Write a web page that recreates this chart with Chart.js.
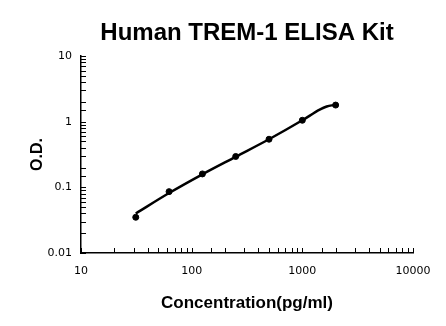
<!DOCTYPE html>
<html>
<head>
<meta charset="utf-8">
<script src="https://cdn.jsdelivr.net/npm/chart.js@4"></script>
<style>
  html,body{margin:0;padding:0;background:#fff}
  #wrap{width:446px;height:326px}
</style>
</head>
<body>
<div id="wrap"><canvas id="c" width="446" height="326"></canvas></div>
<script>
// standard points (pg/ml vs O.D.)
const concX=[31.25,62.5,125,250,500,1000,2000];
const odY=[0.035,0.086,0.16,0.295,0.54,1.05,1.79];
// fitted curve
const fitX=[31.25,62.5,125,250,500,1000,1450,1660,1840,2000];
const fitY=[0.040,0.082,0.158,0.292,0.54,1.05,1.54,1.70,1.77,1.79];
const xTicks=[10,100,1000,10000];
const yTicks=[0.01,0.1,1,10];

const F='"Liberation Sans", Arial, sans-serif';
const TF='"DejaVu Sans", Tahoma, sans-serif';

// tick marks pointing into the plot
const innerTicks={
  id:'innerTicks',
  afterDatasetsDraw(chart){
    const {ctx,chartArea:a,scales:{x,y}}=chart;
    ctx.save();
    ctx.strokeStyle='#000';ctx.lineWidth=1;
    ctx.beginPath();
    x.ticks.forEach(t=>{const px=Math.round(x.getPixelForValue(t.value))+0.5;ctx.moveTo(px,a.bottom);ctx.lineTo(px,a.bottom-5)});
    y.ticks.forEach(t=>{const py=Math.round(y.getPixelForValue(t.value))+0.5;ctx.moveTo(a.left,py);ctx.lineTo(a.left+5,py)});
    ctx.stroke();
    ctx.restore();
  }
};

const lbl=list=>v=>list.some(t=>Math.abs(t-v)/t<1e-6)?String(v):'';

new Chart(document.getElementById('c').getContext('2d'),{
  type:'scatter',
  data:{datasets:[
    {data:fitX.map((v,i)=>({x:v,y:fitY[i]})),showLine:true,borderColor:'#000',borderWidth:2.5,pointRadius:0,cubicInterpolationMode:'monotone',order:2},
    {data:concX.map((v,i)=>({x:v,y:odY[i]})),backgroundColor:'#000',borderColor:'#000',pointRadius:3,order:1}
  ]},
  options:{
    responsive:false,animation:false,
    layout:{padding:{left:0,right:33,top:0,bottom:0}},
    plugins:{
      legend:{display:false},tooltip:{enabled:false},
      title:{display:true,text:'Human TREM-1 ELISA Kit',color:'#000',fullSize:false,
        font:{family:F,size:24,weight:'bold',lineHeight:1.2},padding:{top:19,bottom:8.2}}
    },
    scales:{
      x:{type:'logarithmic',min:10,max:10000,
        grid:{display:false,drawTicks:false},
        border:{display:true,color:'#000',width:1.5},
        ticks:{autoSkip:false,maxRotation:0,padding:12,color:'#000',font:{family:TF,size:11},callback:lbl(xTicks)},
        title:{display:true,text:'Concentration(pg/ml)',color:'#000',font:{family:F,size:17,weight:'bold',lineHeight:1.2},padding:{top:0,bottom:12}},
        afterFit(s){s.height=73}
      },
      y:{type:'logarithmic',min:0.01,max:10,
        grid:{display:false,drawTicks:false},
        border:{display:true,color:'#000',width:1.5},
        ticks:{autoSkip:false,padding:9,color:'#000',font:{family:TF,size:11},callback:lbl(yTicks)},
        title:{display:true,text:'O.D.',color:'#000',font:{family:F,size:16,weight:'bold',lineHeight:1.2},padding:{top:28,bottom:0}},
        afterFit(s){s.width=81}
      }
    }
  },
  plugins:[innerTicks]
});
</script>
</body>
</html>
